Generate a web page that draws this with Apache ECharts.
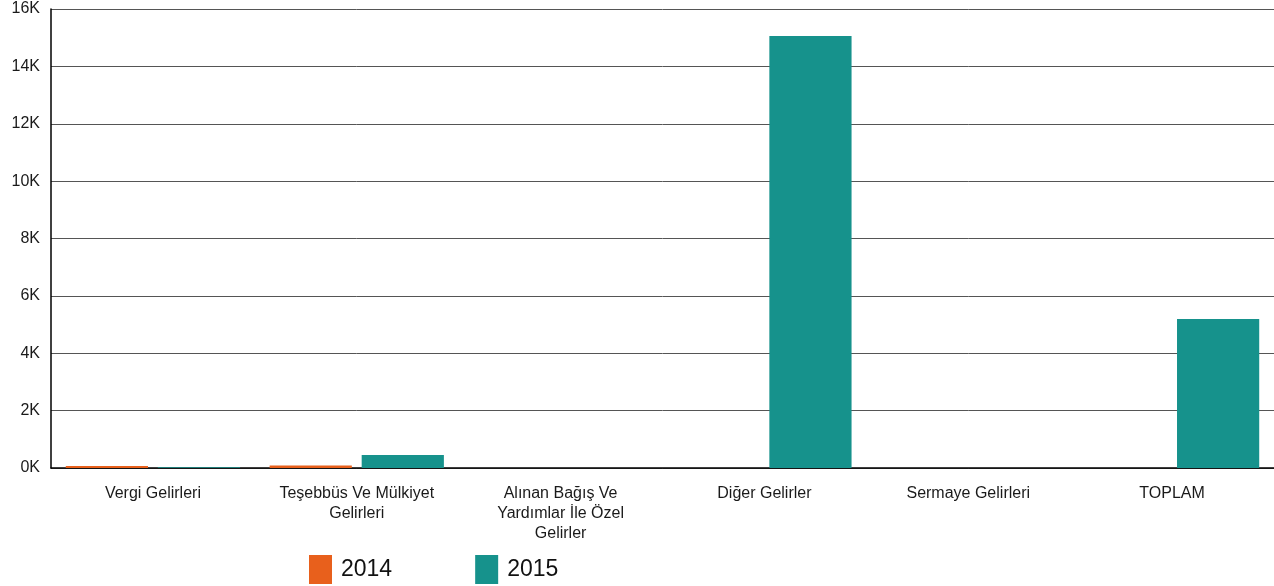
<!DOCTYPE html>
<html lang="tr">
<head>
<meta charset="UTF-8">
<title>Gelirler</title>
<style>
  * { margin: 0; padding: 0; }
  #chart { width: 1274px; height: 586px; background: #fff; }
</style>
<script src="https://cdn.jsdelivr.net/npm/echarts@6/dist/echarts.min.js"></script>
</head>
<body>
<div id="chart"></div>
<script>
// kategoriler (etiketler satirlara bolunmus)
var categories = [
  'Vergi Gelirleri',
  'Teşebbüs Ve Mülkiyet\nGelirleri',
  'Alınan Bağış Ve\nYardımlar İle Özel\nGelirler',
  'Diğer Gelirler',
  'Sermaye Gelirleri',
  'TOPLAM'
];
var seriesNames = ['2014', '2015'];
var values2014 = [70, 90, 0, 0, 0, 0];
var values2015 = [30, 450, 0, 15060, 0, 5190];
var yTicks = [0, 2000, 4000, 6000, 8000, 10000, 12000, 14000, 16000];

var chart = echarts.init(document.getElementById('chart'));
chart.setOption({
  animation: false,
  textStyle: { fontFamily: 'Liberation Sans, Arial, sans-serif' },
  grid: { left: 51, right: 0, top: 9, bottom: 118, containLabel: false },
  legend: {
    left: 304, top: 550,
    itemWidth: 23, itemHeight: 29, itemGap: 83,
    icon: 'rect',
    textStyle: { fontSize: 23, color: '#111', padding: [6, 0, 0, 4] },
    data: seriesNames
  },
  xAxis: {
    type: 'category',
    data: categories,
    axisLine: { lineStyle: { color: '#000', width: 1.5 } },
    axisTick: { show: false },
    axisLabel: { color: '#1a1a1a', fontSize: 16, lineHeight: 20, margin: 16, interval: 0 }
  },
  yAxis: {
    type: 'value',
    min: yTicks[0],
    max: yTicks[yTicks.length - 1],
    interval: 2000,
    axisLine: { show: true, lineStyle: { color: '#000', width: 1.5 } },
    axisTick: { show: false },
    axisLabel: {
      color: '#1a1a1a', fontSize: 16, margin: 11,
      formatter: function (v) { return (v / 1000) + 'K'; }
    },
    splitLine: { lineStyle: { color: '#555', width: 1 } }
  },
  series: [
    {
      name: seriesNames[0], type: 'bar', data: values2014,
      itemStyle: { color: '#e8601c' },
      barGap: '12%', barCategoryGap: '14.5%'
    },
    {
      name: seriesNames[1], type: 'bar', data: values2015,
      itemStyle: { color: '#16928c' },
      barGap: '12%', barCategoryGap: '14.5%'
    }
  ]
});
</script>
</body>
</html>
